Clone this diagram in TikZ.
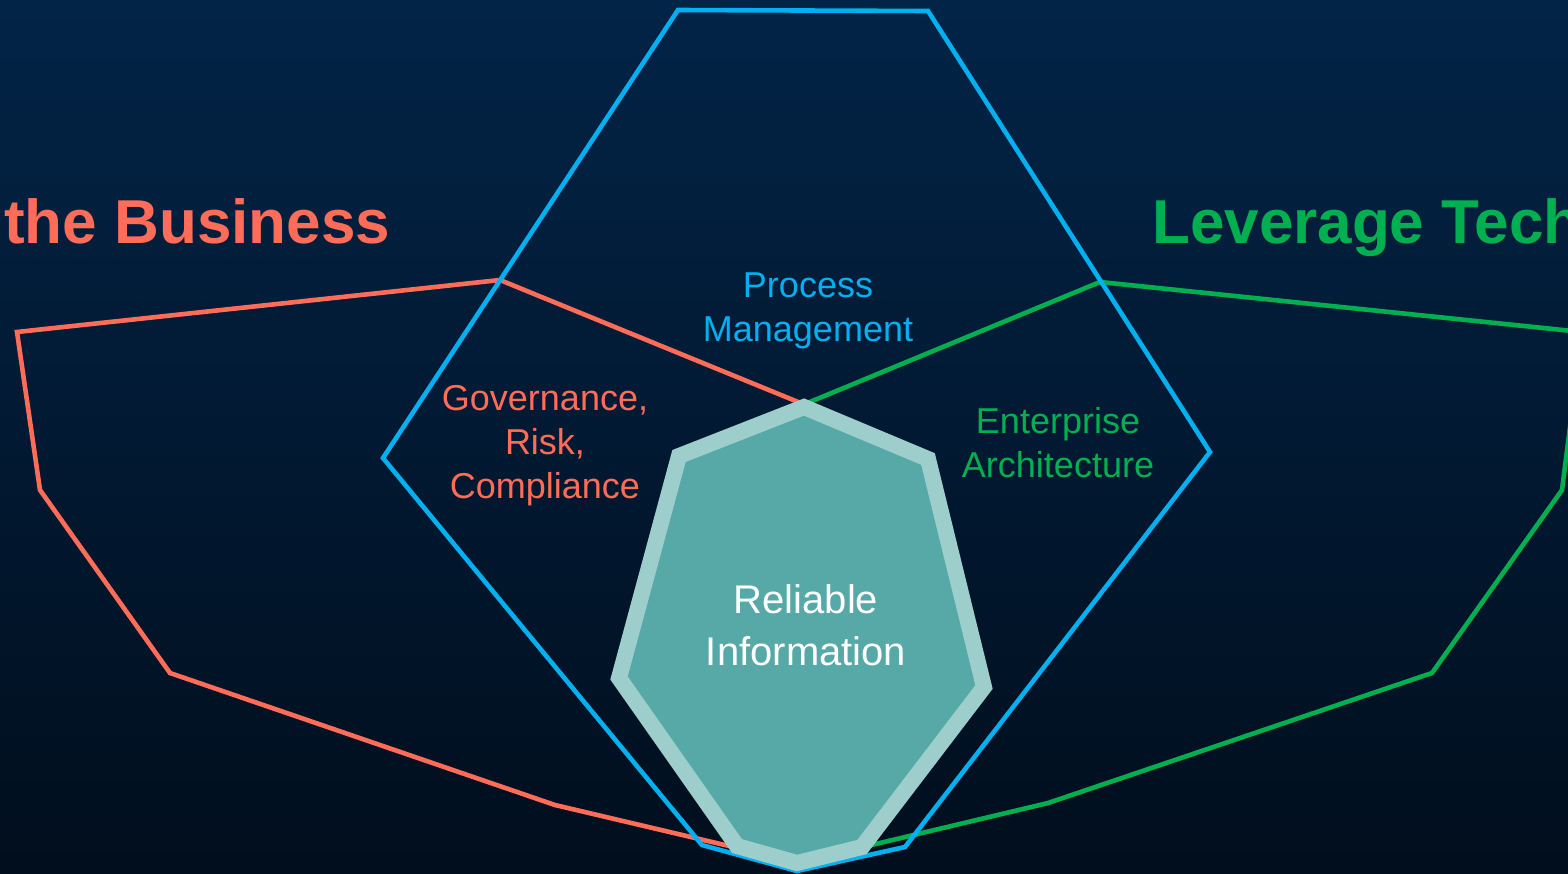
\documentclass[tikz,border=0pt]{standalone}
\usepackage{fontspec}
\setmainfont{Liberation Sans}
\definecolor{bgtop}{RGB}{2,36,71}
\definecolor{bgbot}{RGB}{1,14,29}
\definecolor{redc}{RGB}{255,108,88}
\definecolor{greenc}{RGB}{0,176,80}
\definecolor{bluec}{RGB}{0,176,240}
\definecolor{tealfill}{RGB}{86,169,166}
\definecolor{tealedge}{RGB}{158,206,203}
\tikzset{
  outline/.style={line width=4.6pt, line join=miter},
  bigtitle/.style={font=\fontsize{62}{70}\selectfont\bfseries, inner sep=0pt},
  smalllabel/.style={font=\fontsize{36}{44}\selectfont, align=center, inner sep=0pt},
  corelabel/.style={font=\fontsize{40}{52}\selectfont, align=center, inner sep=0pt, text=white},
}
\begin{document}
\begin{tikzpicture}[x=1pt,y=-1pt]
\useasboundingbox (0,0) rectangle (1568,873);
\clip (0,0) rectangle (1568,873);
\shade[top color=bgtop, bottom color=bgbot] (0,0) rectangle (1568,873);
% red (left) heptagon
\draw[outline, redc] (17,332) -- (500,280) -- (803,404) -- (797,862) -- (555,805) -- (170,673) -- (40,490) -- cycle;
% green (right) heptagon
\draw[outline, greenc] (1582,332) -- (1100,282) -- (805,404) -- (800,862) -- (1048,803) -- (1432,673) -- (1562,490) -- cycle;
% blue heptagon
\draw[outline, bluec] (678,10) -- (928,11) -- (1210,452) -- (905,847) -- (797,871) -- (702,845) -- (383,458) -- cycle;
% central shape
\draw[line width=16pt, line join=miter, draw=tealedge, fill=tealfill]
  (804,407) -- (928,459) -- (984,687) -- (862,847) -- (797,863) -- (737,846) -- (619,678) -- (679,456) -- cycle;
% titles
\node[bigtitle, text=redc, anchor=base west] (biz) at (4,243) {the Business};
\node[bigtitle, text=greenc, anchor=base west] (tech) at (1152,243) {Leverage Tech};
% labels (anchor base = baseline of the last line)
\node[smalllabel, text=bluec, anchor=base] (pm) at (808,341) {Process\\Management};
\node[smalllabel, text=redc, anchor=base] (grc) at (545,498) {Governance,\\Risk,\\Compliance};
\node[smalllabel, text=greenc, anchor=base] (ea) at (1058,477) {Enterprise\\Architecture};
\node[corelabel, anchor=base] (ri) at (806,665) {Reliable\\Information};
\end{tikzpicture}
\end{document}
